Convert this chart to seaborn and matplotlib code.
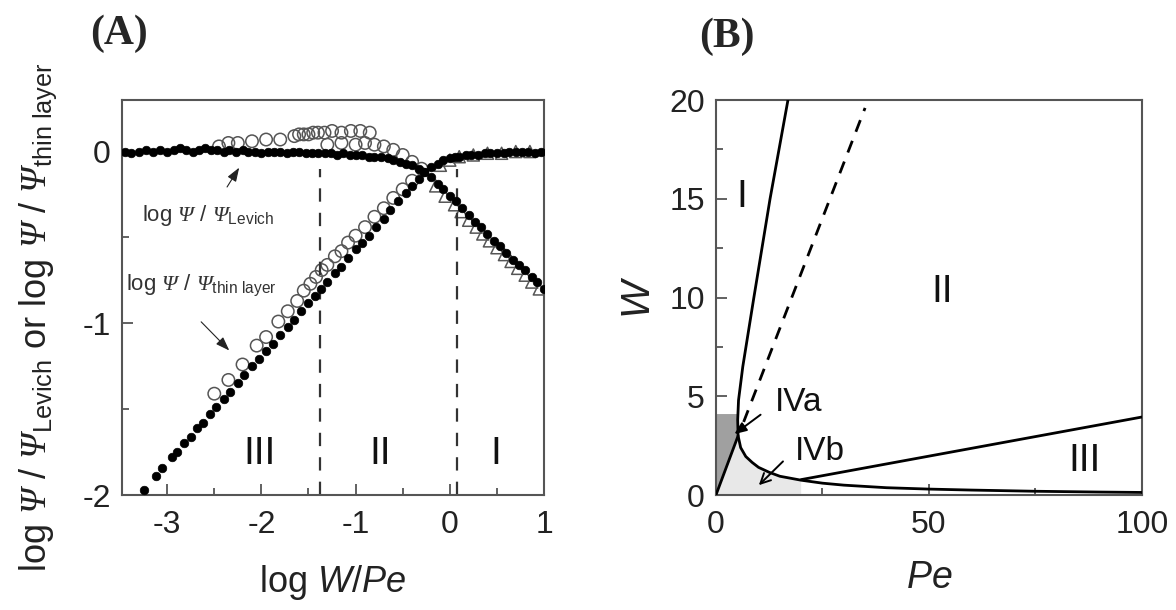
import numpy as np
import pandas as pd
import matplotlib
matplotlib.use("Agg")
import matplotlib.pyplot as plt
from matplotlib.ticker import MultipleLocator
import seaborn as sns

# ---------------- panel A data (log W/Pe, log Psi ratio) ----------------
lev_fill_x = [-3.45, -3.38, -3.3, -3.22, -3.15, -3.08, -3.0, -2.93, -2.86, -2.8, -2.73, -2.66,
              -2.6, -2.53, -2.47, -2.4, -2.34, -2.27, -2.2, -2.14, -2.07, -2.0, -1.93, -1.87,
              -1.8, -1.73, -1.66, -1.6, -1.53, -1.46, -1.4, -1.33, -1.26, -1.2, -1.13, -1.06,
              -1.0, -0.93, -0.86, -0.8, -0.73, -0.66, -0.6, -0.53, -0.47, -0.4, -0.33, -0.27,
              -0.2, -0.13, -0.07, 0.0, 0.07, 0.13, 0.2, 0.27, 0.33, 0.4, 0.47, 0.53, 0.6,
              0.67, 0.73, 0.8, 0.87, 0.93, 1.0]
lev_fill_y = [0.0, -0.01, 0.0, 0.01, 0.0, 0.01, 0.0, 0.01, 0.02, 0.01, 0.0, 0.01,
              0.02, 0.01, 0.01, 0.0, 0.01, 0.0, 0.01, 0.0, 0.0, -0.01, 0.0, 0.0,
              0.0, -0.01, 0.0, 0.0, -0.01, -0.01, -0.01, -0.01, -0.01, -0.02, -0.01, -0.02,
              -0.02, -0.02, -0.03, -0.03, -0.03, -0.04, -0.05, -0.06, -0.07, -0.08, -0.1, -0.12,
              -0.15, -0.19, -0.22, -0.26, -0.29, -0.33, -0.37, -0.41, -0.44, -0.48, -0.52, -0.55, -0.59,
              -0.63, -0.66, -0.69, -0.73, -0.76, -0.80]

thin_fill_x = [-3.25, -3.12, -3.05, -2.95, -2.9, -2.82, -2.75, -2.68, -2.62, -2.55, -2.48, -2.4,
               -2.33, -2.25, -2.18, -2.1, -2.03, -1.95, -1.88, -1.8, -1.72, -1.65, -1.58, -1.5,
               -1.43, -1.37, -1.3, -1.22, -1.15, -1.08, -1.0, -0.93, -0.86, -0.78, -0.7, -0.63,
               -0.55, -0.47, -0.4, -0.33, -0.27, -0.2, -0.13, -0.07, 0.0, 0.05, 0.1, 0.17, 0.23,
               0.3, 0.37, 0.43, 0.5, 0.57, 0.63, 0.7, 0.77, 0.83, 0.9, 0.97]
thin_fill_y = [-1.97, -1.89, -1.84, -1.78, -1.75, -1.70, -1.66, -1.61, -1.58, -1.53, -1.49, -1.44,
               -1.40, -1.35, -1.30, -1.25, -1.21, -1.16, -1.12, -1.07, -1.02, -0.98, -0.93, -0.88,
               -0.84, -0.80, -0.76, -0.71, -0.67, -0.62, -0.57, -0.53, -0.49, -0.44, -0.39, -0.34,
               -0.29, -0.24, -0.20, -0.16, -0.12, -0.09, -0.07, -0.05, -0.04, -0.03, -0.03, -0.02, -0.02,
               -0.02, -0.01, -0.01, -0.01, -0.01, 0.0, 0.0, 0.0, 0.0, -0.01, 0.0]

thin_open_x = [-2.5, -2.35, -2.2, -2.05, -1.95, -1.82, -1.72, -1.62, -1.55, -1.48, -1.42, -1.36,
               -1.3, -1.22, -1.15, -1.08, -1.0, -0.9, -0.8, -0.7, -0.6, -0.5, -0.4]
thin_open_y = [-1.41, -1.33, -1.24, -1.13, -1.08, -0.99, -0.93, -0.87, -0.81, -0.77, -0.73, -0.69,
               -0.66, -0.61, -0.58, -0.53, -0.49, -0.44, -0.38, -0.33, -0.27, -0.22, -0.17]

lev_open_x = [-2.45, -2.35, -2.25, -2.1, -1.95, -1.8, -1.65, -1.6, -1.55, -1.5, -1.45, -1.4,
              -1.33, -1.25, -1.15, -1.05, -0.95, -0.85,
              -1.3, -1.15, -1.0, -0.9, -0.8, -0.7, -0.6, -0.5, -0.4, -0.3]
lev_open_y = [0.03, 0.05, 0.05, 0.06, 0.07, 0.07, 0.09, 0.10, 0.10, 0.10, 0.11, 0.11,
              0.11, 0.12, 0.11, 0.12, 0.12, 0.11,
              0.04, 0.05, 0.04, 0.05, 0.04, 0.03, 0.01, -0.02, -0.06, -0.10]

tri_x = [-0.15, -0.05, 0.05, 0.12, 0.2, 0.28, 0.35, 0.42, 0.5, 0.58, 0.65, 0.72, 0.8, 0.87, 0.95,
         -0.1, 0.0, 0.1, 0.25, 0.4, 0.55, 0.7, 0.85]
tri_y = [-0.20, -0.26, -0.31, -0.35, -0.40, -0.44, -0.48, -0.52, -0.56, -0.60, -0.64, -0.68, -0.72, -0.76, -0.80,
         -0.08, -0.05, -0.03, -0.02, -0.01, -0.01, 0.0, 0.0]

regionA_bounds = [-1.38, 0.08]
regionA_labels = ["III", "II", "I"]
regionA_label_x = [-2.02, -0.74, 0.49]

# ---------------- panel B data (Pe, W) ----------------
bound_pe = [16.9, 12.7, 8.9, 6.3, 5.3, 5.1, 5.2, 5.8, 7.0, 8.5, 10.0, 12.5, 15.0, 20.0, 25.0,
            30.0, 40.0, 50.0, 60.0, 75.0, 90.0, 100.0]
bound_w = [20.0, 15.0, 10.0, 6.5, 4.8, 3.8, 3.0, 2.4, 1.95, 1.65, 1.4, 1.15, 0.95, 0.75, 0.6,
           0.5, 0.37, 0.3, 0.25, 0.19, 0.15, 0.13]
origin_pe = [0.0, 5.2]
origin_w = [0.0, 3.0]
dash_pe = [6.5, 35.0]
dash_w = [3.7, 19.6]
III_pe = [20.0, 100.0]
III_w = [0.78, 3.95]
dark_pe = [0.0, 0.0, 5.2, 5.1, 5.2, 0.0]
dark_w = [0.0, 4.1, 4.1, 3.8, 3.0, 0.0]
light_pe = [0.0, 5.2, 5.8, 7.0, 8.5, 10.0, 12.5, 15.0, 20.0, 20.0]
light_w = [0.0, 3.0, 2.4, 1.95, 1.65, 1.4, 1.15, 0.95, 0.75, 0.0]

sns.set_theme(style="white")
plt.rcParams["font.family"] = ["Liberation Sans", "DejaVu Sans"]
plt.rcParams["axes.unicode_minus"] = False
plt.rcParams["mathtext.fontset"] = "custom"
plt.rcParams["mathtext.rm"] = "Liberation Sans"
plt.rcParams["mathtext.it"] = "Liberation Sans:italic"
plt.rcParams["mathtext.bf"] = "Liberation Sans:bold"
plt.rcParams["mathtext.cal"] = "Liberation Serif:italic"

lev_txt = r"log $\mathcal{\Psi}$ / $\mathcal{\Psi}_{\mathrm{Levich}}$"
thin_txt = r"log $\mathcal{\Psi}$ / $\mathcal{\Psi}_{\mathrm{thin\ layer}}$"

fig = plt.figure(figsize=(11.76, 6.10), dpi=100)
axA = fig.add_axes([0.1037, 0.1885, 0.3589, 0.6475])
axB = fig.add_axes([0.6088, 0.1885, 0.3623, 0.6475])

spine_col = "#555555"
for ax in (axA, axB):
    for s in ax.spines.values():
        s.set_color(spine_col)
        s.set_linewidth(1.5)
    ax.tick_params(axis="both", which="both", direction="in", colors=spine_col,
                   labelcolor="#222222", labelsize=23, top=False, right=False,
                   left=True, bottom=True)
    ax.tick_params(which="major", length=8, width=1.3)
    ax.tick_params(which="minor", length=5, width=1.3)
    ax.tick_params(axis="x", pad=11)
    ax.tick_params(axis="y", pad=8)

# ---- panel A ----
open_kw = dict(facecolor="none", edgecolor="#555555", linewidth=1.1, zorder=2)
sns.scatterplot(x=lev_open_x, y=lev_open_y, ax=axA, s=80, marker="o", **open_kw)
sns.scatterplot(x=thin_open_x, y=thin_open_y, ax=axA, s=80, marker="o", **open_kw)
sns.scatterplot(x=tri_x, y=tri_y, ax=axA, s=75, marker="^", **open_kw)
sns.scatterplot(x=lev_fill_x, y=lev_fill_y, ax=axA, s=38, color="black", edgecolor="black",
                linewidth=0.5, zorder=3)
sns.scatterplot(x=thin_fill_x, y=thin_fill_y, ax=axA, s=38, color="black", edgecolor="black",
                linewidth=0.5, zorder=3)

axA.vlines(regionA_bounds, -2.0, -0.1, colors="#333333", linestyles=(0, (6, 5)), linewidth=1.6)
for lab, lx in zip(regionA_labels, regionA_label_x):
    axA.text(lx, -1.76, lab, fontsize=28, ha="center", va="center", color="#111111")

axA.text(-3.27, -0.37, lev_txt, fontsize=16, ha="left", va="center", color="#333333")
axA.annotate("", xy=(-2.22, -0.08), xytext=(-2.38, -0.22),
             arrowprops=dict(arrowstyle="-|>,head_length=0.7,head_width=0.25", color="#222222", lw=0.8))
axA.text(-3.44, -0.78, thin_txt, fontsize=16, ha="left", va="center", color="#333333")
axA.annotate("", xy=(-2.32, -1.17), xytext=(-2.66, -0.98),
             arrowprops=dict(arrowstyle="-|>,head_length=0.7,head_width=0.25", color="#222222", lw=0.8))

axA.set_xlim(-3.48, 1.0)
axA.set_ylim(-2.0, 0.3)
axA.set_xticks([-3, -2, -1, 0, 1])
axA.set_yticks([-2, -1, 0])
axA.xaxis.set_minor_locator(MultipleLocator(0.5))
axA.yaxis.set_minor_locator(MultipleLocator(0.5))
axA.set_xlabel(r"log $\mathit{W/Pe}$", fontsize=26, labelpad=16, color="#222222")
axA.set_ylabel(lev_txt + " or " + thin_txt, fontsize=26, color="#222222")
axA.yaxis.set_label_coords(-0.15, 0.45)

# ---- panel B ----
axB.fill(dark_pe, dark_w, color="#a0a0a0", lw=0, zorder=1)
axB.fill(light_pe, light_w, color="#e8e8e8", lw=0, zorder=1)
line_kw = dict(color="black", linewidth=2.0, sort=False, estimator=None, zorder=3)
sns.lineplot(x=bound_pe, y=bound_w, ax=axB, **line_kw)
sns.lineplot(x=origin_pe, y=origin_w, ax=axB, **line_kw)
sns.lineplot(x=III_pe, y=III_w, ax=axB, **line_kw)
sns.lineplot(x=dash_pe, y=dash_w, ax=axB, dashes=False, linestyle=(0, (4.5, 3.5)), **line_kw)

axB.text(6.1, 15.1, "I", fontsize=28, ha="center", va="center", color="#111111")
axB.text(53, 10.3, "II", fontsize=28, ha="center", va="center", color="#111111")
axB.text(86.4, 1.72, "III", fontsize=28, ha="center", va="center", color="#111111")
axB.text(19.5, 4.7, "IVa", fontsize=24, ha="center", va="center", color="#111111")
axB.text(24.5, 2.2, "IVb", fontsize=24, ha="center", va="center", color="#111111")
axB.annotate("", xy=(3.8, 3.0), xytext=(11.0, 4.15),
             arrowprops=dict(arrowstyle="-|>,head_length=0.6,head_width=0.25", color="black", lw=1.4))
axB.annotate("", xy=(9.6, 0.4), xytext=(16.2, 1.8),
             arrowprops=dict(arrowstyle="->,head_length=0.6,head_width=0.3", color="black", lw=1.4))

axB.set_xlim(0, 100)
axB.set_ylim(0, 20)
axB.set_xticks([0, 50, 100])
axB.set_yticks([0, 5, 10, 15, 20])
axB.xaxis.set_minor_locator(MultipleLocator(25))
axB.yaxis.set_minor_locator(MultipleLocator(2.5))
axB.set_xlabel(r"$\mathit{Pe}$", fontsize=27, labelpad=14, color="#222222")
axB.set_ylabel(r"$\mathit{W}$", fontsize=29, labelpad=8, color="#222222")

fig.text(0.101, 0.945, "(A)", fontsize=30, fontweight="bold", family="Liberation Serif",
         ha="center", va="center")
fig.text(0.618, 0.94, "(B)", fontsize=30, fontweight="bold", family="Liberation Serif",
         ha="center", va="center")

fig.savefig("out.png", dpi=100)
